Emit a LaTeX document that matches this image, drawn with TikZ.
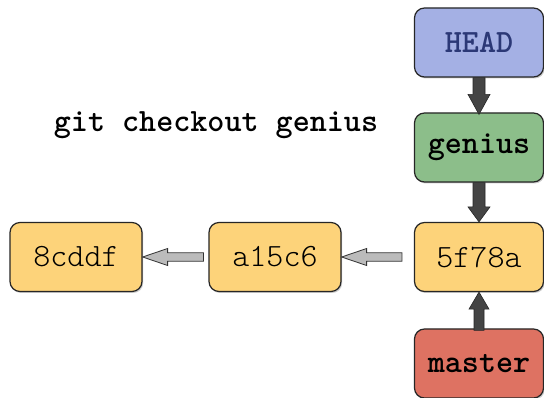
\documentclass[tikz,border=0pt]{standalone}
\usepackage{fontspec}
\newfontfamily\lightmono{Latin Modern Mono Light}
\usetikzlibrary{calc,shadows}
\definecolor{headfill}{RGB}{164,176,228}
\definecolor{headtext}{RGB}{43,56,118}
\definecolor{branchfill}{RGB}{140,190,138}
\definecolor{commitfill}{RGB}{253,211,122}
\definecolor{masterfill}{RGB}{222,114,98}
\definecolor{darkarrow}{RGB}{68,68,68}
\definecolor{grayarrow}{RGB}{187,187,187}
\newcommand\fatarrow[6]{%
  \coordinate (fas) at (#2);
  \coordinate (fat) at (#3);
  \coordinate (fah) at ($(fat)!#6!(fas)$);
  \draw[#1] ($(fas)!#4!90:(fat)$) -- ($(fah)!#4!-90:(fas)$) -- ($(fah)!#5!-90:(fas)$) -- (fat)
    -- ($(fah)!#5!90:(fas)$) -- ($(fah)!#4!90:(fas)$) -- ($(fas)!#4!-90:(fat)$) -- cycle;}
\tikzset{
  box/.style={draw=black!85, line width=1.2pt, rounded corners=10pt, minimum height=69pt,
    inner sep=0pt,
    drop shadow={shadow xshift=1.2pt, shadow yshift=-1.5pt, opacity=0.4}},
  commit/.style={box, fill=commitfill, minimum width=132pt, font=\fontsize{32.5}{34}\selectfont\lightmono},
  ref/.style={box, minimum width=129pt, font=\fontsize{32.5}{34}\selectfont\ttfamily\bfseries},
  darkarr/.style={fill=darkarrow, draw=black!85, line width=0.6pt, line join=miter},
  grayarr/.style={fill=grayarrow, draw=black!80, line width=0.8pt, line join=miter},
  title/.style={font=\fontsize{32.5}{34}\selectfont\ttfamily\bfseries, inner sep=0pt}
}
\begin{document}
\begin{tikzpicture}[x=1pt,y=-1pt]
\useasboundingbox[fill=white] (0,0) rectangle (544,398);
\node[ref, fill=headfill, text=headtext] (HEAD) at (479,42.5) {HEAD};
\node[ref, fill=branchfill] (genius) at (479,147.5) {genius};
\node[commit, minimum width=129pt] (c3) at (479,257) {5f78a};
\node[commit] (c2) at (275,257) {a15c6};
\node[commit] (c1) at (76,257) {8cddf};
\node[ref, fill=masterfill] (master) at (479,363.5) {master};
\node[title] (cmd) at (216,125) {git checkout genius};
\fatarrow{darkarr}{HEAD.south}{$(genius.north)+(0,2)$}{6pt}{11pt}{20pt}
\fatarrow{darkarr}{genius.south}{c3.north}{6pt}{11pt}{15pt}
\fatarrow{darkarr}{$(master.north)+(0,2)$}{c3.south}{5pt}{10pt}{17pt}
\fatarrow{grayarr}{$(c3.west)+(-12,0)$}{c2.east}{4.2pt}{8.5pt}{25pt}
\fatarrow{grayarr}{$(c2.west)+(-5,0)$}{c1.east}{4.2pt}{8.5pt}{25pt}
\end{tikzpicture}
\end{document}
